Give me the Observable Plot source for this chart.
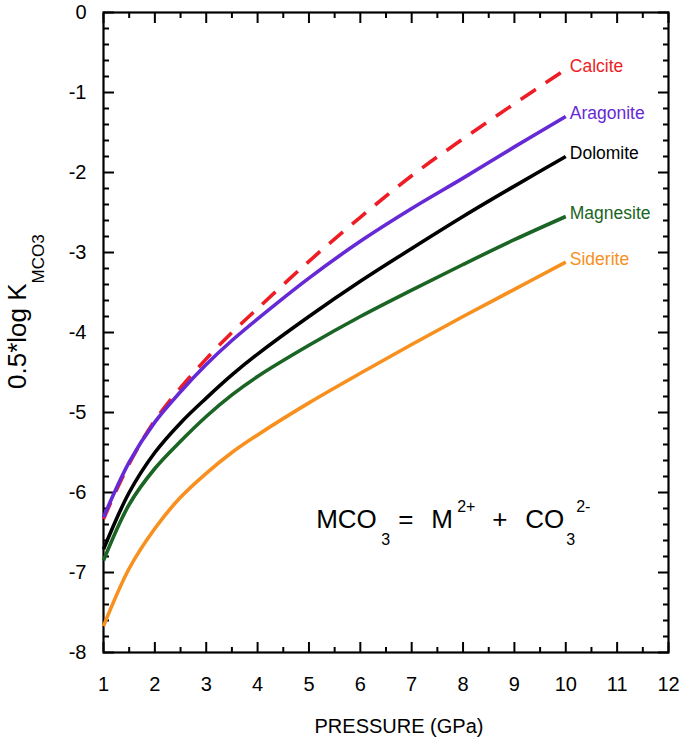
<!DOCTYPE html>
<html><head><meta charset="utf-8">
<script src="https://cdn.jsdelivr.net/npm/d3@7"></script>
<script src="https://cdn.jsdelivr.net/npm/@observablehq/plot@0.6"></script>
<style>
body{margin:0;background:#fff;}
#chart svg{display:block;}
</style>
</head><body><div id="chart"></div>
<script>
// ---- data ----
const pressure  = [1, 1.5, 2, 2.5, 3, 3.5, 4, 5, 6, 7, 8, 9, 10];
const calcite   = [-6.33, -5.64, -5.10, -4.69, -4.33, -4.00, -3.70, -3.11, -2.56, -2.04, -1.58, -1.14, -0.71];
const aragonite = [-6.31, -5.62, -5.12, -4.74, -4.40, -4.10, -3.83, -3.32, -2.86, -2.45, -2.07, -1.68, -1.30];
const dolomite  = [-6.71, -6.00, -5.50, -5.13, -4.82, -4.53, -4.27, -3.80, -3.36, -2.95, -2.55, -2.17, -1.80];
const magnesite = [-6.85, -6.15, -5.70, -5.36, -5.05, -4.78, -4.55, -4.16, -3.80, -3.47, -3.15, -2.84, -2.55];
const siderite  = [-7.67, -6.95, -6.45, -6.06, -5.76, -5.50, -5.28, -4.88, -4.51, -4.15, -3.80, -3.46, -3.12];
const minerals  = ["Calcite", "Aragonite", "Dolomite", "Magnesite", "Siderite"];
const seriesValues = [calcite, aragonite, dolomite, magnesite, siderite];
const xTicks = [1,2,3,4,5,6,7,8,9,10,11,12];
const xMinorTicks = [1.5,2.5,3.5,4.5,5.5,6.5,7.5,8.5,9.5,10.5,11.5];
const yTicks = [0,-1,-2,-3,-4,-5,-6,-7,-8];
const yMinorTicks = d3.range(-8, 0.001, 0.2).filter(v => Math.abs(v - Math.round(v)) > 0.01);
const xLabel = "PRESSURE (GPa)";
const yLabelMain = "0.5*log K";
const yLabelSub = "MCO3";
// equation  MCO3 = M2+ + CO3 2-   : [text, role]
const equationParts = [["MCO","base"],["3","sub"],["=","base"],["M","base"],["2+","sup"],["+","base"],["CO","base"],["3","sub"],["2-","sup"]];

// ---- styles / layout ----
const colors = {Calcite:"#ee1d25", Aragonite:"#6629d6", Dolomite:"#000000", Magnesite:"#1a6424", Siderite:"#f7901e"};
const dashes = {Calcite:"18,12"};
const FONT = "'Liberation Sans', Arial, Helvetica, sans-serif";
const eqOffsets = [0, 65, 82, 115, 141, 176, 209, 250, 260];
const eqAnchor = {p: 5.15, v: -6.45};

const rows = minerals.flatMap((m, k) => pressure.map((p, i) => ({mineral: m, p, v: seriesValues[k][i]})));
const lastRows = minerals.map((m, k) => ({mineral: m, p: pressure[pressure.length-1], v: seriesValues[k][pressure.length-1]}));

const lineMarks = minerals.map(m => Plot.line(rows.filter(r => r.mineral === m), {
  x: "p", y: "v", stroke: colors[m], strokeWidth: 3.6, curve: "catmull-rom",
  strokeDasharray: dashes[m] || null, strokeLinecap: "butt"
}));

const labelMarks = minerals.map(m => Plot.text(lastRows.filter(r => r.mineral === m), {
  x: "p", y: "v", text: "mineral", fill: colors[m], textAnchor: "start", dx: 4, dy: -3,
  fontSize: 17.5, lineAnchor: "middle"
}));

const noText = () => "";
const chart = Plot.plot({
  width: 682, height: 739,
  marginLeft: 103, marginRight: 14, marginTop: 12, marginBottom: 87,
  x: {domain: [1, 12]},
  y: {domain: [-8, 0]},
  style: {fontFamily: FONT, background: "white", color: "black"},
  marks: [
    Plot.axisX(xTicks, {anchor: "bottom", tickSize: -10, tickFormat: noText, label: null, strokeWidth: 2}),
    Plot.axisX(xMinorTicks, {anchor: "bottom", tickSize: -5, tickFormat: noText, label: null, strokeWidth: 2}),
    Plot.axisX(xTicks, {anchor: "top", tickSize: -10, tickFormat: noText, label: null, strokeWidth: 2}),
    Plot.axisX(xMinorTicks, {anchor: "top", tickSize: -5, tickFormat: noText, label: null, strokeWidth: 2}),
    Plot.axisY(yTicks, {anchor: "left", tickSize: -11, tickFormat: noText, label: null, strokeWidth: 2}),
    Plot.axisY(yMinorTicks, {anchor: "left", tickSize: -6, tickFormat: noText, label: null, strokeWidth: 2}),
    Plot.axisY(yTicks, {anchor: "right", tickSize: -11, tickFormat: noText, label: null, strokeWidth: 2}),
    Plot.axisY(yMinorTicks, {anchor: "right", tickSize: -6, tickFormat: noText, label: null, strokeWidth: 2}),
    Plot.axisX(xTicks, {anchor: "bottom", tickSize: 0, tickPadding: 24, tickFormat: d => String(d), label: null, fontSize: 20}),
    Plot.axisY(yTicks, {anchor: "left", tickSize: 0, tickPadding: 17, tickFormat: d => String(d), label: null, fontSize: 20}),
    Plot.frame({strokeWidth: 2.2}),
    ...lineMarks,
    ...labelMarks,
    Plot.text([xLabel], {frameAnchor: "bottom", dy: 80, dx: 13, fontSize: 20, text: d => d})
  ]
});
document.getElementById("chart").appendChild(chart);

// multi-part texts with sub/superscripts
const svg = d3.select(chart);
const sx = v => chart.scale("x").apply(v);
const sy = v => chart.scale("y").apply(v);

const yt = svg.append("text")
  .attr("text-anchor", "start")
  .attr("transform", `translate(26,389) rotate(-90)`)
  .attr("font-family", FONT).attr("font-size", 26).attr("fill", "black");
yt.append("tspan").text(yLabelMain);
yt.append("tspan").attr("font-size", 17).attr("dy", 18).text(yLabelSub);

const ex = sx(eqAnchor.p), ey = sy(eqAnchor.v);
const roleDy = {base: 0, sub: 17, sup: -16};
const roleSize = {base: 26, sub: 16, sup: 16};
const eq = svg.append("g").attr("font-family", FONT).attr("fill", "black").attr("text-anchor", "start");
equationParts.forEach(([t, role], i) => {
  eq.append("text").attr("x", ex + eqOffsets[i]).attr("y", ey + roleDy[role])
    .attr("font-size", roleSize[role]).text(t);
});
</script>
</body></html>
